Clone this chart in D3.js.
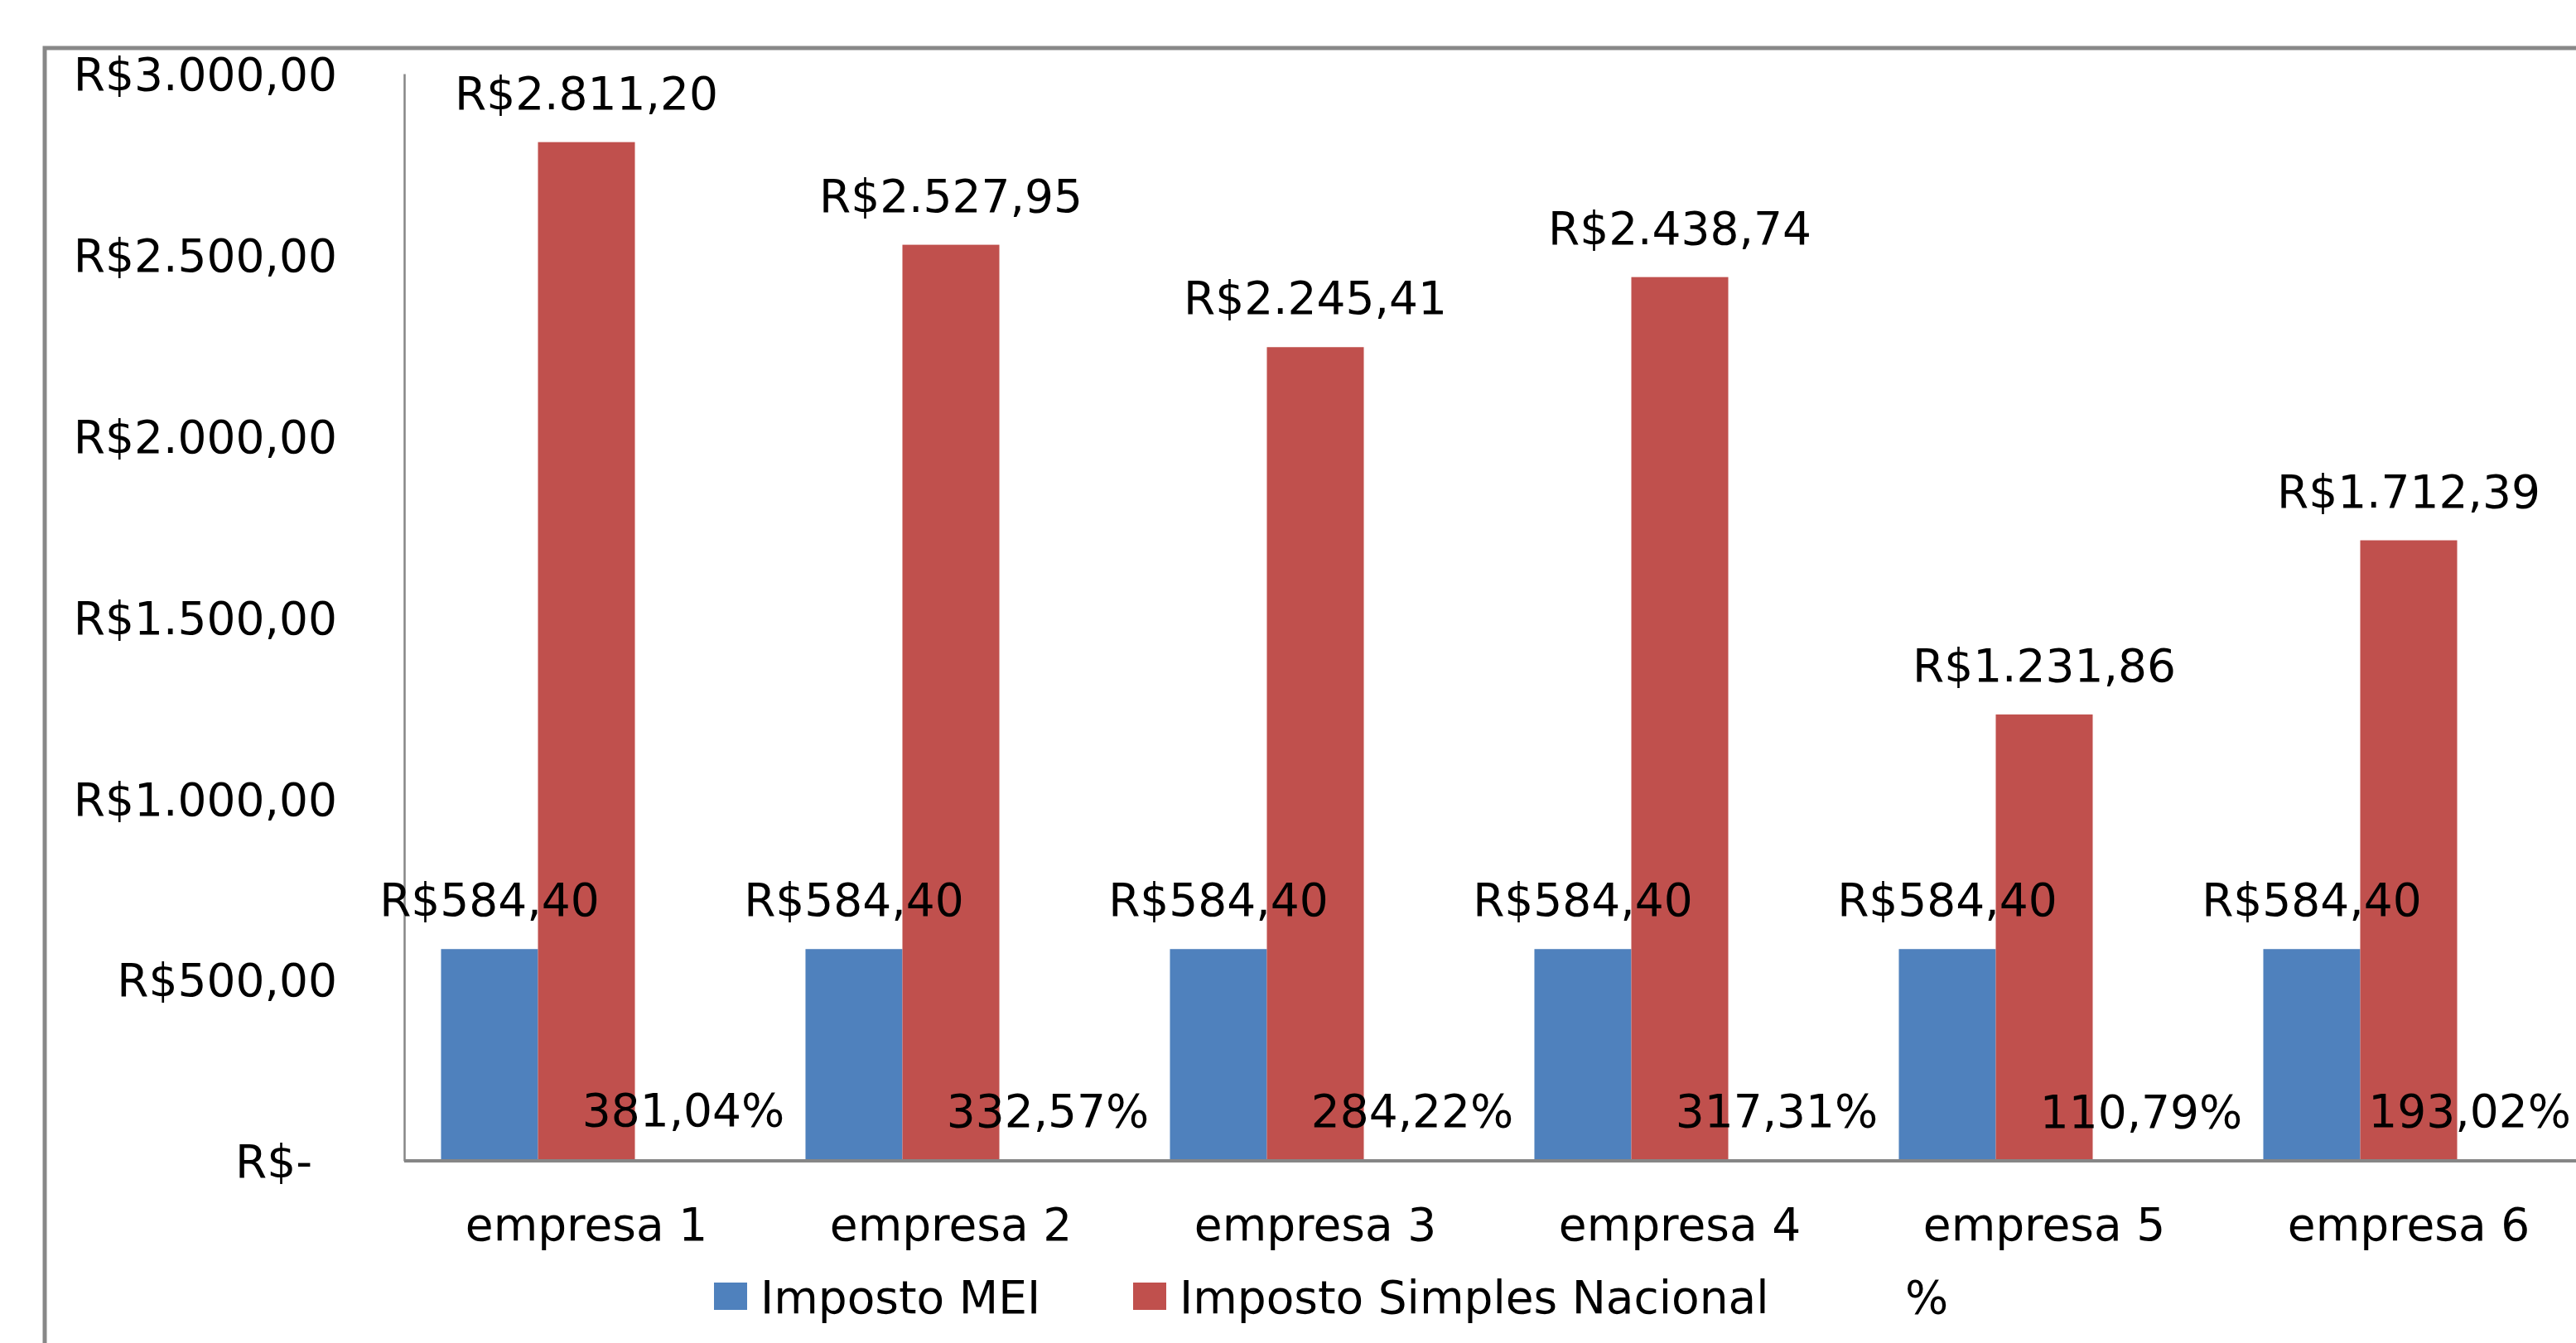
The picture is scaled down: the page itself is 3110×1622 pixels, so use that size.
<!DOCTYPE html>
<html>
<head>
<meta charset="utf-8">
<script src="https://cdn.jsdelivr.net/npm/d3@7"></script>
<style>
  html, body { margin: 0; padding: 0; background: #fff; }
  svg { display: block; }
  text { font-family: "DejaVu Sans", sans-serif; fill: #000; }
</style>
</head>
<body>
<svg id="chart" width="3110" height="1622"></svg>
<script>
const categories = ["empresa 1", "empresa 2", "empresa 3", "empresa 4", "empresa 5", "empresa 6"];
const seriesNames = ["Imposto MEI", "Imposto Simples Nacional", "%"];
const impostoMEI = [584.40, 584.40, 584.40, 584.40, 584.40, 584.40];
const impostoSimples = [2811.20, 2527.95, 2245.41, 2438.74, 1231.86, 1712.39];
const percentual = [3.8104, 3.3257, 2.8422, 3.1731, 1.1079, 1.9302];
const yTicks = [0, 500, 1000, 1500, 2000, 2500, 3000];
const seriesColors = ["#4F81BD", "#C0504D", "none"];

(function () {
const svg = d3.select("#chart");
const W = 3110, H = 1622;
const pLeft = 488, pRight = 3128, pTop = 89, pBottom = 1402;
const fontSize = 55;
const maxTextRight = 3104;

// outer border (chart area frame)
svg.append("path")
  .attr("d", `M${54},${H} L${54},${58} L${W},${58}`)
  .attr("fill", "none").attr("stroke", "#888").attr("stroke-width", 5);

const x0 = d3.scaleBand().domain(categories).range([pLeft, pRight]).paddingInner(0).paddingOuter(0);
const x1 = d3.scaleBand().domain(seriesNames).range([0, x0.bandwidth()]).paddingInner(0).paddingOuter(0.38);
const y = d3.scaleLinear().domain([0, 3000]).range([pBottom, pTop]);

const fmtMoney = v => "R$" + d3.format(",.2f")(v).replace(/,/g, "#").replace(".", ",").replace(/#/g, ".");
const fmtPct = v => d3.format(".2f")(v * 100).replace(".", ",") + "%";

// y axis
const yAxis = d3.axisLeft(y).tickValues(yTicks).tickSize(0).tickPadding(0)
  .tickFormat(v => v === 0 ? "R$-" : fmtMoney(v));
const gy = svg.append("g").attr("transform", `translate(${pLeft},0)`).call(yAxis);
gy.select(".domain").attr("stroke", "#868686").attr("stroke-width", 2.5);
gy.selectAll(".tick text")
  .attr("font-family", "DejaVu Sans").attr("font-size", fontSize)
  .attr("fill", "#000")
  .attr("x", v => v === 0 ? -111 : -81)
  .attr("dy", "0.36em");

const rows = categories.map((c, i) => ({
  cat: c,
  vals: [impostoMEI[i], impostoSimples[i], percentual[i]]
}));

const groups = svg.append("g").selectAll("g").data(rows).join("g")
  .attr("transform", d => `translate(${x0(d.cat)},0)`);

groups.selectAll("rect").data(d => d.vals.map((v, k) => ({ v, k })))
  .join("rect")
  .attr("x", d => x1(seriesNames[d.k]))
  .attr("width", x1.bandwidth())
  .attr("y", d => y(d.v))
  .attr("height", d => y(0) - y(d.v))
  .attr("fill", d => seriesColors[d.k]);

groups.each(function (row) {
  const gx0 = x0(row.cat);
  d3.select(this).selectAll("text.lbl").data(row.vals.map((v, k) => ({ v, k })))
    .join("text").attr("class", "lbl")
    .attr("text-anchor", "middle")
    .attr("font-size", fontSize)
    .attr("y", d => y(d.v) - 40)
    .text(d => d.k === 2 ? fmtPct(d.v) : fmtMoney(d.v))
    .attr("x", function (d) {
      let cx = x1(seriesNames[d.k]) + x1.bandwidth() / 2;
      const half = this.getComputedTextLength() / 2;
      if (gx0 + cx + half > maxTextRight) cx = maxTextRight - half - gx0;
      return cx;
    });
});

// x axis
const xAxis = d3.axisBottom(x0).tickSize(0).tickPadding(0);
const gx = svg.append("g").attr("transform", `translate(0,${pBottom})`).call(xAxis);
gx.select(".domain").attr("stroke", "#868686").attr("stroke-width", 4)
  .attr("d", `M${pLeft},0H${W}`);
gx.selectAll(".tick text")
  .attr("font-family", "DejaVu Sans").attr("font-size", fontSize)
  .attr("fill", "#000").attr("dy", 0).attr("y", 96);

// legend
const legendItems = [
  { name: seriesNames[0], color: seriesColors[0], sx: 862, tx: 918 },
  { name: seriesNames[1], color: seriesColors[1], sx: 1368, tx: 1424 },
  { name: seriesNames[2], color: "none", sx: 2244, tx: 2300 }
];
const lg = svg.append("g");
lg.selectAll("rect").data(legendItems).join("rect")
  .attr("x", d => d.sx).attr("y", 1549).attr("width", 40).attr("height", 33)
  .attr("fill", d => d.color);
lg.selectAll("text").data(legendItems).join("text")
  .attr("x", d => d.tx).attr("y", 1586)
  .attr("font-size", fontSize)
  .text(d => d.name);
})();
</script>
</body>
</html>
